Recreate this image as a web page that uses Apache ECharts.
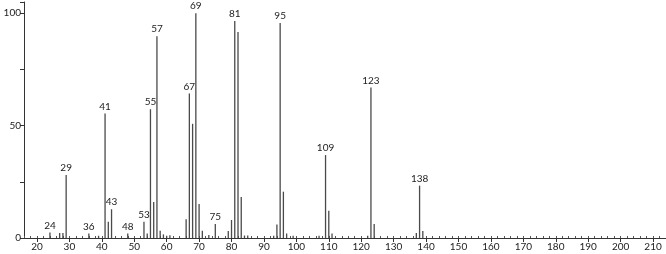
<!DOCTYPE html>
<html>
<head>
<meta charset="utf-8">
<script src="https://cdn.jsdelivr.net/npm/echarts@6/dist/echarts.min.js"></script>
<style>html,body{margin:0;padding:0;background:#fff;}#c{width:666px;height:254px;}</style>
</head>
<body>
<div id="c"></div>
<script>
const mz = [24,27,28,29,36,39,41,42,43,48,53,54,55,56,57,58,59,60,61,66,67,68,69,70,71,73,75,79,80,81,82,83,84,85,93,94,95,96,97,99,107,109,110,111,122,123,124,137,138,139];
const intensity = [2.4,2.2,2.2,28,2,1,55.4,7.2,12.8,2,7.2,2,57.3,16,89.8,3.2,1.6,1,1.2,8.3,64.3,50.8,100,15.1,3.2,1.3,6.2,3.1,8,96.5,91.6,18.2,1.1,1.1,1,6,95.7,20.6,2,1,1,36.9,12.1,2,1,67,6.2,2.2,23.3,3.1];
const labeledPeaks = [24,29,36,41,43,48,53,55,57,67,69,75,81,95,109,123,138];
const xTickLabels = [20,30,40,50,60,70,80,90,100,110,120,130,140,150,160,170,180,190,200,210];
const yTickLabels = [0,50,100];

const FONT = 'Lato';
const data = mz.map((m, i) => ({
  value: [m, intensity[i]],
  label: { show: labeledPeaks.includes(m) }
}));

const chart = echarts.init(document.getElementById('c'));
chart.setOption({
  animation: false,
  grid: { left: 24, top: 2, width: 642, height: 236, containLabel: false },
  xAxis: [{
    type: 'value', min: 16, max: 214,
    axisLine: { show: true, onZero: false, lineStyle: { color: '#333', width: 1 } },
    axisTick: { show: true, customValues: xTickLabels, length: 4, lineStyle: { color: '#333' } },
    axisLabel: { customValues: xTickLabels, color: '#222', fontFamily: FONT, fontSize: 10, margin: 4, showMinLabel: true, showMaxLabel: true },
    splitLine: { show: false }
  }, {
    type: 'value', min: 16, max: 214, interval: 2, position: 'bottom',
    axisLine: { show: false },
    axisTick: { show: true, inside: true, length: 2, lineStyle: { color: '#555' } },
    axisLabel: { show: false },
    splitLine: { show: false }
  }],
  yAxis: {
    type: 'value', min: 0, max: 105, interval: 25,
    axisLine: { show: true, lineStyle: { color: '#333', width: 1 } },
    axisTick: { show: true, length: 4, lineStyle: { color: '#333' } },
    axisLabel: {
      color: '#222', fontFamily: FONT, fontSize: 10, margin: 3,
      formatter: v => yTickLabels.includes(v) ? String(v) : ''
    },
    splitLine: { show: false }
  },
  series: [{
    type: 'bar',
    xAxisIndex: 0,
    barWidth: 1.3,
    itemStyle: { color: '#4a4a4a' },
    label: {
      position: 'top', distance: 2, color: '#222', fontFamily: FONT, fontSize: 10,
      formatter: p => String(p.value[0])
    },
    data: data
  }]
});
</script>
</body>
</html>
